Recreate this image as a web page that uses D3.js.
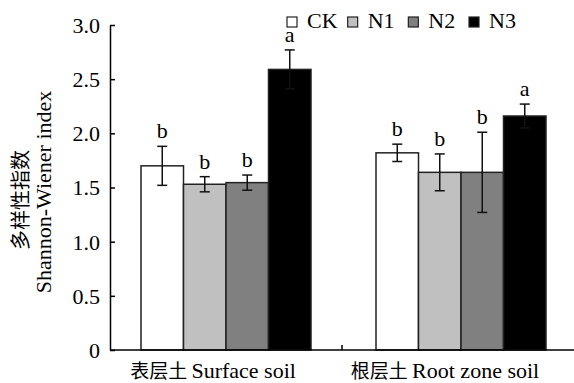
<!DOCTYPE html>
<html>
<head>
<meta charset="utf-8">
<script src="https://cdn.jsdelivr.net/npm/d3@7"></script>
<style>
  body { margin: 0; background: #fff; }
  svg text { font-family: "Liberation Serif", "Times New Roman", serif; fill: #000; }
  svg text.cjk, svg tspan.cjk { font-family: "Noto Sans CJK SC", serif; }
</style>
</head>
<body>
<div id="chart"></div>
<script>
const soils = ['表层土 Surface soil', '根层土 Root zone soil'];
const treatments = ['CK', 'N1', 'N2', 'N3'];
const fills = ['#ffffff', '#c0c0c0', '#808080', '#000000'];
const surfaceMean = [1.70, 1.53, 1.545, 2.59];
const surfaceErr = [0.18, 0.07, 0.07, 0.18];
const rootMean = [1.82, 1.64, 1.64, 2.16];
const rootErr = [0.08, 0.17, 0.37, 0.11];
const surfaceLetters = ['b', 'b', 'b', 'a'];
const rootLetters = ['b', 'b', 'b', 'a'];
const yTicks = [0, 0.5, 1.0, 1.5, 2.0, 2.5, 3.0];

const rows = [];
soils.forEach((s, si) => {
  const m = si === 0 ? surfaceMean : rootMean;
  const e = si === 0 ? surfaceErr : rootErr;
  const l = si === 0 ? surfaceLetters : rootLetters;
  treatments.forEach((t, ti) => rows.push({ soil: s, trt: t, mean: m[ti], err: e[ti], letter: l[ti], fill: fills[ti] }));
});

const width = 574, height = 383;
const svg = d3.select('#chart').append('svg')
  .attr('width', width).attr('height', height);

const x0 = d3.scaleBand().domain(soils).range([110, 574]);
const x1 = d3.scaleBand().domain(treatments).range([0, 170]);
const y = d3.scaleLinear().domain([0, 3]).range([350, 25]);

const barX = d => x0(d.soil) + (x0.bandwidth() - 170) / 2 + x1(d.trt) + (d.soil === soils[1] ? 3 : 0);

// bars
svg.selectAll('.bar').data(rows).enter().append('rect')
  .attr('x', barX)
  .attr('y', d => y(d.mean))
  .attr('width', x1.bandwidth())
  .attr('height', d => y(0) - y(d.mean))
  .attr('fill', d => d.fill)
  .attr('stroke', '#222')
  .attr('stroke-width', 1.5);

// error bars
const cap = 5;
const eb = svg.selectAll('.err').data(rows).enter().append('g')
  .attr('stroke', '#111').attr('stroke-width', 1.5);
eb.append('line')
  .attr('x1', d => barX(d) + x1.bandwidth() / 2)
  .attr('x2', d => barX(d) + x1.bandwidth() / 2)
  .attr('y1', d => y(d.mean - d.err))
  .attr('y2', d => y(d.mean + d.err));
eb.append('line')
  .attr('x1', d => barX(d) + x1.bandwidth() / 2 - cap)
  .attr('x2', d => barX(d) + x1.bandwidth() / 2 + cap)
  .attr('y1', d => y(d.mean + d.err))
  .attr('y2', d => y(d.mean + d.err));
eb.append('line')
  .attr('x1', d => barX(d) + x1.bandwidth() / 2 - cap)
  .attr('x2', d => barX(d) + x1.bandwidth() / 2 + cap)
  .attr('y1', d => y(d.mean - d.err))
  .attr('y2', d => y(d.mean - d.err));

// significance letters
svg.selectAll('.letter').data(rows).enter().append('text')
  .attr('x', d => barX(d) + x1.bandwidth() / 2)
  .attr('y', d => y(d.mean + d.err) - 8)
  .attr('text-anchor', 'middle')
  .style('font-size', '22px')
  .text(d => d.letter);

// y axis
const yAxis = d3.axisLeft(y).tickValues(yTicks).tickSizeInner(-5).tickSizeOuter(0)
  .tickPadding(10)
  .tickFormat(d => d === 0 ? '0' : d3.format('.1f')(d));
const gy = svg.append('g').attr('transform', 'translate(110,0)').call(yAxis)
  .attr('font-family', null).attr('font-size', null);
gy.select('.domain').attr('stroke', '#000').attr('stroke-width', 1.5);
gy.selectAll('.tick line').attr('stroke', '#000').attr('stroke-width', 1.5);
gy.selectAll('.tick text').style('font-size', '22px').attr('dy', '0.34em');

// x axis
const gx = svg.append('g').attr('transform', 'translate(0,350)');
gx.append('line').attr('x1', 110).attr('x2', 574).attr('y1', 0).attr('y2', 0)
  .attr('stroke', '#000').attr('stroke-width', 1.5);
gx.selectAll('.xtick').data(soils.slice(1)).enter().append('line')
  .attr('x1', d => x0(d)).attr('x2', d => x0(d))
  .attr('y1', 0).attr('y2', -5)
  .attr('stroke', '#000').attr('stroke-width', 1.5);
gx.selectAll('.xlab').data(soils).enter().append('text')
  .attr('x', d => x0(d) + x0.bandwidth() / 2 - 13)
  .attr('y', 28)
  .attr('text-anchor', 'middle')
  .style('font-size', '22px')
  .each(function(d) {
    const parts = d.split(' ');
    d3.select(this).append('tspan').attr('class', 'cjk').style('font-size', '19px').text(parts[0] + ' ');
    d3.select(this).append('tspan').text(parts.slice(1).join(' '));
  });

// y title
const yt = svg.append('g').attr('transform', 'translate(0,200) rotate(-90)');
yt.append('text').attr('class', 'cjk').attr('y', 28).attr('text-anchor', 'middle')
  .style('font-size', '20px').text('多样性指数');
yt.append('text').attr('y', 51).attr('x', 8).attr('text-anchor', 'middle')
  .style('font-size', '22px').text('Shannon-Wiener index');

// legend
const legX = d3.scalePoint().domain(treatments).range([287, 469]);
const leg = svg.selectAll('.leg').data(treatments).enter().append('g')
  .attr('transform', t => `translate(${legX(t)},17)`);
leg.append('rect').attr('width', 10).attr('height', 10)
  .attr('fill', (t, i) => fills[i]).attr('stroke', '#222').attr('stroke-width', 1.2);
leg.append('text').attr('x', 20).attr('y', 11)
  .style('font-size', '22px').text(t => t);
</script>
</body>
</html>
